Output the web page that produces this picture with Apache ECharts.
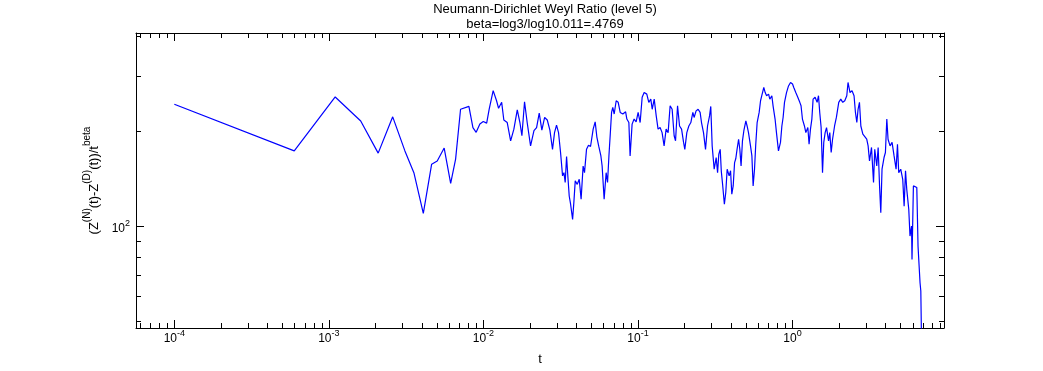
<!DOCTYPE html>
<html>
<head>
<meta charset="UTF-8">
<title>Neumann-Dirichlet Weyl Ratio</title>
<script src="https://cdn.jsdelivr.net/npm/echarts@6/dist/echarts.min.js"></script>
<style>
	html, body { margin: 0; padding: 0; background: #fff; }
	#chart { width: 1043px; height: 371px; }
</style>
</head>
<body>
<div id="chart"></div>
<script>
// samples, stored as log10 of t and of the ratio
var tExp = [
	-4.000, -3.224, -2.959, -2.794, -2.681, -2.587, -2.508, -2.450, -2.389, -2.335,
	-2.299, -2.254, -2.212, -2.180, -2.148, -2.094, -2.068, -2.047, -2.023, -2.001,
	-1.979, -1.963, -1.937, -1.915, -1.902, -1.882, -1.868, -1.846, -1.824, -1.803,
	-1.781, -1.764, -1.751, -1.734, -1.717, -1.695, -1.673, -1.656, -1.639, -1.622,
	-1.604, -1.587, -1.570, -1.553, -1.540, -1.527, -1.514, -1.501, -1.488, -1.479,
	-1.471, -1.462, -1.454, -1.445, -1.436, -1.423, -1.415, -1.406, -1.393, -1.380,
	-1.368, -1.355, -1.346, -1.333, -1.320, -1.307, -1.290, -1.277, -1.266, -1.254,
	-1.249, -1.240, -1.232, -1.219, -1.206, -1.197, -1.188, -1.180, -1.171, -1.163,
	-1.154, -1.141, -1.128, -1.115, -1.098, -1.080, -1.072, -1.059, -1.051, -1.038,
	-1.025, -1.012, -0.999, -0.986, -0.973, -0.960, -0.943, -0.930, -0.917, -0.908,
	-0.895, -0.882, -0.870, -0.857, -0.844, -0.831, -0.818, -0.805, -0.792, -0.779,
	-0.766, -0.757, -0.744, -0.731, -0.718, -0.705, -0.697, -0.684, -0.671, -0.658,
	-0.645, -0.637, -0.624, -0.611, -0.598, -0.589, -0.576, -0.563, -0.550, -0.537,
	-0.529, -0.520, -0.507, -0.494, -0.485, -0.477, -0.468, -0.461, -0.452, -0.441,
	-0.432, -0.423, -0.410, -0.401, -0.393, -0.384, -0.375, -0.367, -0.359, -0.349,
	-0.341, -0.333, -0.324, -0.315, -0.302, -0.294, -0.285, -0.272, -0.263, -0.255,
	-0.246, -0.238, -0.229, -0.216, -0.207, -0.199, -0.186, -0.177, -0.168, -0.155,
	-0.147, -0.134, -0.126, -0.113, -0.104, -0.091, -0.078, -0.069, -0.061, -0.052,
	-0.039, -0.026, -0.013, 0.000, 0.008, 0.021, 0.034, 0.047, 0.055, 0.064,
	0.077, 0.086, 0.099, 0.107, 0.116, 0.125, 0.133, 0.146, 0.159, 0.168,
	0.176, 0.185, 0.194, 0.202, 0.211, 0.220, 0.233, 0.241, 0.250, 0.259,
	0.272, 0.284, 0.299, 0.312, 0.325, 0.338, 0.351, 0.359, 0.372, 0.385,
	0.398, 0.407, 0.416, 0.424, 0.433, 0.442, 0.455, 0.467, 0.480, 0.489,
	0.498, 0.511, 0.524, 0.532, 0.545, 0.554, 0.563, 0.571, 0.579, 0.592,
	0.601, 0.610, 0.618, 0.631, 0.644, 0.657, 0.670, 0.679, 0.687, 0.700,
	0.713, 0.722, 0.731, 0.739, 0.752, 0.760, 0.770, 0.773, 0.782, 0.791,
	0.804, 0.812, 0.821, 0.825, 0.830, 0.834
];
var ratioExp = [
	2.388, 2.240, 2.411, 2.335, 2.233, 2.348, 2.240, 2.171, 2.042, 2.198,
	2.208, 2.249, 2.137, 2.214, 2.372, 2.381, 2.314, 2.299, 2.325, 2.333,
	2.328, 2.372, 2.431, 2.399, 2.375, 2.394, 2.338, 2.330, 2.272, 2.309,
	2.370, 2.330, 2.288, 2.396, 2.330, 2.256, 2.304, 2.314, 2.360, 2.306,
	2.346, 2.338, 2.306, 2.245, 2.298, 2.322, 2.298, 2.235, 2.161, 2.171,
	2.140, 2.222, 2.161, 2.097, 2.071, 2.023, 2.076, 2.145, 2.134, 2.150,
	2.087, 2.192, 2.171, 2.245, 2.258, 2.254, 2.309, 2.332, 2.284, 2.255,
	2.261, 2.224, 2.192, 2.087, 2.171, 2.140, 2.224, 2.288, 2.362, 2.378,
	2.357, 2.399, 2.394, 2.362, 2.357, 2.364, 2.341, 2.330, 2.224, 2.325,
	2.341, 2.332, 2.362, 2.330, 2.410, 2.425, 2.420, 2.394, 2.404, 2.372,
	2.404, 2.351, 2.309, 2.314, 2.298, 2.256, 2.309, 2.298, 2.383, 2.372,
	2.288, 2.272, 2.383, 2.319, 2.309, 2.267, 2.245, 2.298, 2.319, 2.330,
	2.362, 2.346, 2.367, 2.372, 2.362, 2.330, 2.298, 2.245, 2.319, 2.351,
	2.381, 2.256, 2.182, 2.219, 2.171, 2.230, 2.245, 2.176, 2.131, 2.071,
	2.108, 2.182, 2.161, 2.177, 2.103, 2.129, 2.203, 2.216, 2.245, 2.277,
	2.245, 2.192, 2.272, 2.304, 2.335, 2.319, 2.298, 2.256, 2.224, 2.129,
	2.182, 2.261, 2.330, 2.362, 2.399, 2.415, 2.441, 2.425, 2.415, 2.420,
	2.404, 2.415, 2.383, 2.341, 2.298, 2.240, 2.267, 2.319, 2.346, 2.394,
	2.425, 2.446, 2.457, 2.452, 2.441, 2.425, 2.410, 2.394, 2.383, 2.341,
	2.319, 2.298, 2.314, 2.261, 2.309, 2.341, 2.404, 2.410, 2.394, 2.415,
	2.362, 2.314, 2.171, 2.267, 2.298, 2.314, 2.272, 2.298, 2.235, 2.277,
	2.319, 2.347, 2.394, 2.404, 2.394, 2.399, 2.415, 2.457, 2.425, 2.431,
	2.415, 2.362, 2.330, 2.372, 2.394, 2.319, 2.293, 2.288, 2.277, 2.256,
	2.208, 2.251, 2.140, 2.245, 2.192, 2.251, 2.129, 2.044, 2.182, 2.219,
	2.235, 2.341, 2.277, 2.256, 2.267, 2.224, 2.182, 2.261, 2.171, 2.182,
	2.150, 2.065, 2.177, 2.118, 2.055, 1.970, 2.002, 1.896, 2.129, 2.134,
	2.124, 1.938, 1.938, 1.822, 1.796, 1.658
];

// axis ranges and ticks
var xRange = [5.65e-5, 9.55];
var yRange = [47.7, 411];
var xMajor = [1e-4, 1e-3, 1e-2, 1e-1, 1];
var xMinor = [
	6e-5, 7e-5, 8e-5, 9e-5,
	2e-4, 3e-4, 4e-4, 5e-4, 6e-4, 7e-4, 8e-4, 9e-4,
	2e-3, 3e-3, 4e-3, 5e-3, 6e-3, 7e-3, 8e-3, 9e-3,
	2e-2, 3e-2, 4e-2, 5e-2, 6e-2, 7e-2, 8e-2, 9e-2,
	0.2, 0.3, 0.4, 0.5, 0.6, 0.7, 0.8, 0.9,
	2, 3, 4, 5, 6, 7, 8, 9
];
var yMajor = [100];
var yMinor = [50, 60, 70, 80, 90, 200, 300, 400];

var FONT = 'Liberation Sans';

var points = tExp.map(function(v, i) {
	return [Math.pow(10, v), Math.pow(10, ratioExp[i])];
});

var powRich = {
	b: { fontFamily: FONT, fontSize: 12, color: '#000', lineHeight: 16, verticalAlign: 'bottom' },
	s: { fontFamily: FONT, fontSize: 9, color: '#000', lineHeight: 9, verticalAlign: 'top' }
};

function powLabel(v) {
	var e = Math.round(Math.log(v) / Math.LN10);
	return '{b|10}{s|' + e + '}';
}

function xAxisOf(pos, ticks, len, main) {
	return {
		type: 'log', logBase: 10, position: pos,
		min: xRange[0], max: xRange[1],
		axisLine: { show: main, lineStyle: { color: '#000', width: 1 } },
		axisTick: { show: true, inside: true, length: len, customValues: ticks, lineStyle: { color: '#000' } },
		axisLabel: main && pos == 'bottom' ? {
			show: true, margin: 1, customValues: xMajor, formatter: powLabel, rich: powRich
		} : { show: false },
		splitLine: { show: false },
		name: main && pos == 'bottom' ? 't' : '',
		nameLocation: 'middle', nameGap: 25,
		nameTextStyle: { fontFamily: FONT, fontSize: 13, color: '#000' }
	};
}

function yAxisOf(pos, ticks, len, main) {
	return {
		type: 'log', logBase: 10, position: pos,
		min: yRange[0], max: yRange[1],
		axisLine: { show: main, lineStyle: { color: '#000', width: 1 } },
		axisTick: { show: true, inside: true, length: len, customValues: ticks, lineStyle: { color: '#000' } },
		axisLabel: main && pos == 'left' ? {
			show: true, margin: 6, customValues: yMajor, formatter: powLabel, rich: powRich
		} : { show: false },
		splitLine: { show: false },
		name: main && pos == 'left' ? '{n|(Z}{s|(N)}{n|(t)-Z}{s|(D)}{n|(t))/t}{s|beta}' : '',
		nameLocation: 'middle', nameGap: 26, nameRotate: 90,
		nameTextStyle: {
			rich: {
				n: { fontFamily: FONT, fontSize: 13, color: '#000', lineHeight: 18, verticalAlign: 'bottom' },
				s: { fontFamily: FONT, fontSize: 10, color: '#000', lineHeight: 10, verticalAlign: 'top' }
			}
		}
	};
}

var chart = echarts.init(document.getElementById('chart'));
chart.setOption({
	animation: false,
	backgroundColor: '#fff',
	title: {
		text: 'Neumann-Dirichlet Weyl Ratio (level 5)\nbeta=log3/log10.011=.4769',
		left: 540, top: -3, textAlign: 'center',
		textStyle: { fontFamily: FONT, fontSize: 13, fontWeight: 'normal', color: '#000', lineHeight: 15 }
	},
	grid: { left: 136, right: 99, top: 33, bottom: 42 },
	xAxis: [
		xAxisOf('bottom', xMajor, 8, true),
		xAxisOf('bottom', xMinor, 5, false),
		xAxisOf('top', xMajor, 8, true),
		xAxisOf('top', xMinor, 5, false)
	],
	yAxis: [
		yAxisOf('left', yMajor, 8, true),
		yAxisOf('left', yMinor, 5, false),
		yAxisOf('right', yMajor, 8, true),
		yAxisOf('right', yMinor, 5, false)
	],
	series: [{
		type: 'line',
		xAxisIndex: 0, yAxisIndex: 0,
		data: points,
		showSymbol: false,
		clip: true,
		lineStyle: { color: '#0000ff', width: 1.2 }
	}]
});
</script>
</body>
</html>
